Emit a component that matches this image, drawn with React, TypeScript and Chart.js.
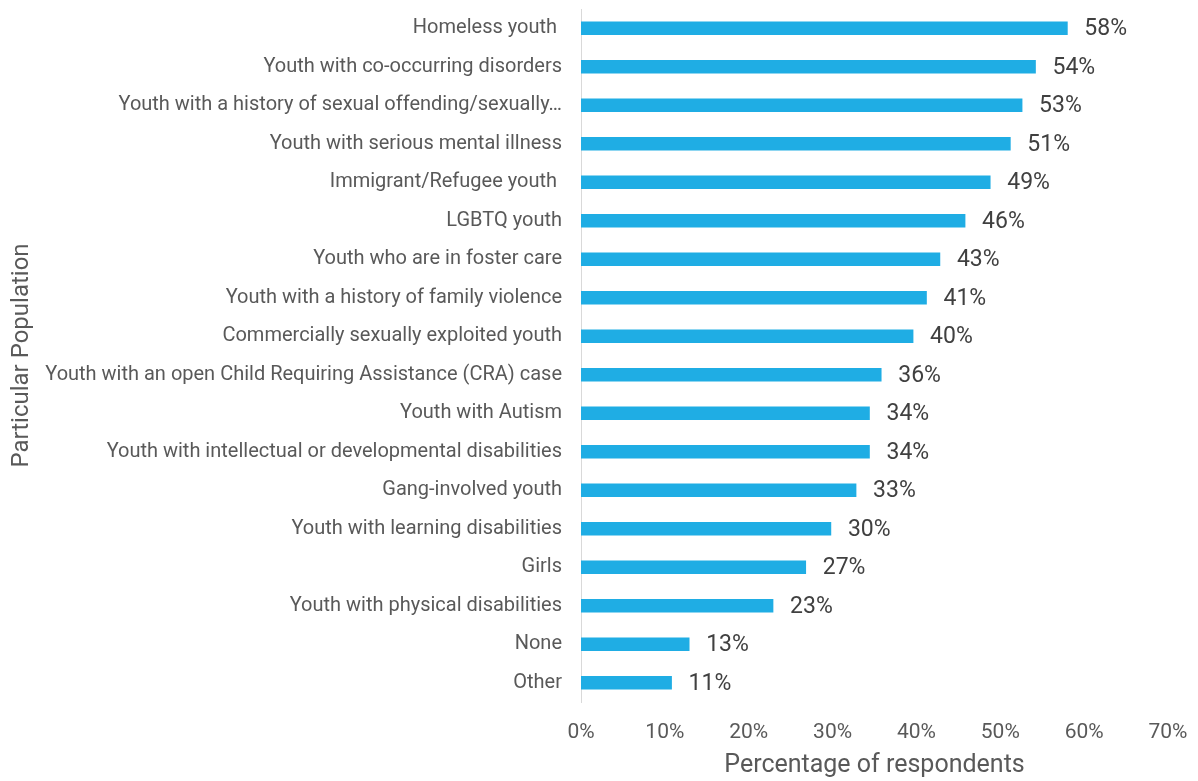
import React, { useEffect, useRef } from "react";
import { Chart, registerables } from "chart.js";

Chart.register(...registerables);

const categories: string[] = [
  "Homeless youth ",
  "Youth with co-occurring disorders",
  "Youth with a history of sexual offending/sexually…",
  "Youth with serious mental illness",
  "Immigrant/Refugee youth ",
  "LGBTQ youth",
  "Youth who are in foster care",
  "Youth with a history of family violence",
  "Commercially sexually exploited youth",
  "Youth with an open Child Requiring Assistance (CRA) case",
  "Youth with Autism",
  "Youth with intellectual or developmental disabilities",
  "Gang-involved youth",
  "Youth with learning disabilities",
  "Girls",
  "Youth with physical disabilities",
  "None",
  "Other",
];

const values: number[] = [
  58.0, 54.2, 52.6, 51.2, 48.8, 45.8, 42.8, 41.2, 39.6, 35.8, 34.4, 34.4, 32.8,
  29.8, 26.8, 22.9, 12.9, 10.8,
];

const valueLabels: string[] = [
  "58%", "54%", "53%", "51%", "49%", "46%", "43%", "41%", "40%", "36%", "34%",
  "34%", "33%", "30%", "27%", "23%", "13%", "11%",
];

const xTicks: number[] = [0, 10, 20, 30, 40, 50, 60, 70];

const FONT = "Roboto, 'Liberation Sans', sans-serif";
const TEXT = "#595959";

const labelPlugin = {
  id: "valueLabels",
  afterDatasetsDraw(chart: any) {
    const ctx = chart.ctx;
    const meta = chart.getDatasetMeta(0);
    ctx.save();
    ctx.font = `23px ${FONT}`;
    ctx.fillStyle = "#404040";
    ctx.textAlign = "left";
    ctx.textBaseline = "middle";
    meta.data.forEach((bar: any, i: number) => {
      ctx.fillText(valueLabels[i], bar.x + 17, bar.y + 1);
    });
    ctx.restore();
  },
};

export default function App() {
  const ref = useRef<HTMLCanvasElement>(null);

  useEffect(() => {
    if (!ref.current) return;
    const chart = new Chart(ref.current, {
      type: "bar",
      data: {
        labels: categories,
        datasets: [
          {
            data: values,
            backgroundColor: "#1FADE4",
            borderWidth: 0,
            barThickness: 13,
          },
        ],
      },
      plugins: [labelPlugin],
      options: {
        indexAxis: "y",
        animation: false,
        responsive: true,
        maintainAspectRatio: false,
        layout: { padding: { top: 9, right: 30, left: 0, bottom: 0 } },
        plugins: {
          legend: { display: false },
          tooltip: { enabled: false },
        },
        scales: {
          x: {
            min: 0,
            max: 70,
            afterBuildTicks(scale: any) {
              scale.ticks = xTicks.map((v) => ({ value: v }));
            },
            afterFit(scale: any) {
              scale.height = 79;
              scale.paddingLeft = 0;
              scale.paddingRight = 0;
            },
            grid: { display: false, drawTicks: false },
            border: { display: false },
            ticks: {
              padding: 18,
              color: TEXT,
              font: { family: FONT, size: 21 },
              callback: (v: any) => `${v}%`,
            },
            title: {
              display: true,
              text: "Percentage of respondents",
              color: TEXT,
              font: { family: FONT, size: 25 },
              padding: { top: 0, bottom: 0 },
            },
          },
          y: {
            afterFit(scale: any) {
              scale.width = 581;
              scale.paddingTop = 0;
              scale.paddingBottom = 0;
            },
            grid: { display: false, drawTicks: false },
            border: { display: true, color: "#D9D9D9", width: 1 },
            ticks: {
              padding: 19,
              color: TEXT,
              font: { family: FONT, size: 20 },
              autoSkip: false,
            },
            title: {
              display: true,
              text: "Particular Population",
              color: TEXT,
              font: { family: FONT, size: 24 },
              padding: { top: 8, bottom: 0 },
            },
          },
        },
      },
    });
    return () => chart.destroy();
  }, []);

  return (
    <div
      style={{
        position: "fixed",
        left: 0,
        top: 0,
        width: 1198,
        height: 781,
        background: "#fff",
      }}
    >
      <canvas ref={ref} />
    </div>
  );
}
